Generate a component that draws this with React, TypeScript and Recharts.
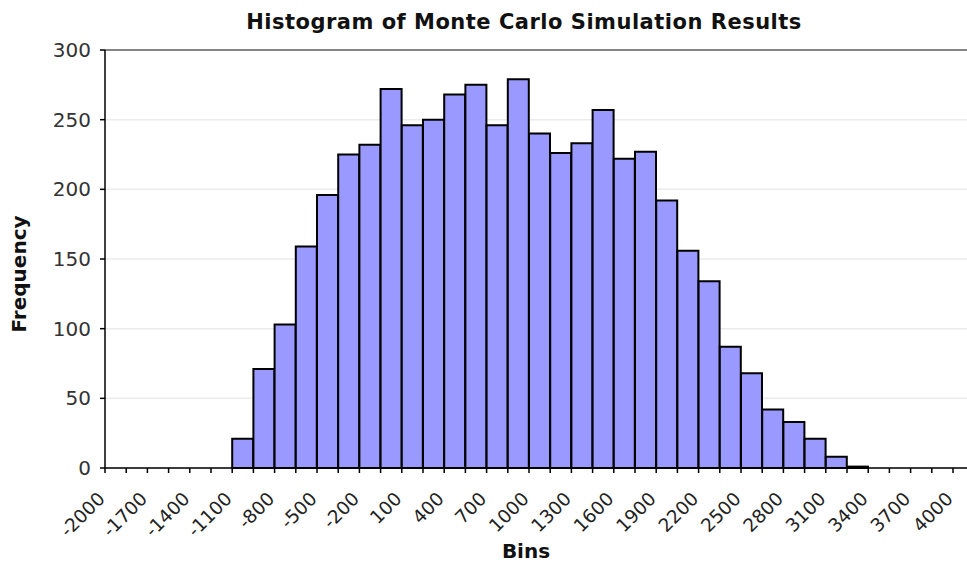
import React from 'react';
import { BarChart, Bar, XAxis, YAxis, CartesianGrid, ReferenceLine } from 'recharts';

// Bin lower edges (width 150)
const binStarts = [
  -2000, -1850, -1700, -1550, -1400, -1250, -1100, -950, -800, -650,
  -500, -350, -200, -50, 100, 250, 400, 550, 700, 850,
  1000, 1150, 1300, 1450, 1600, 1750, 1900, 2050, 2200, 2350,
  2500, 2650, 2800, 2950, 3100, 3250, 3400, 3550, 3700, 3850,
];
const binWidth = 150;

// Frequency per bin
const frequencies = [
  0, 0, 0, 0, 0, 0, 21, 71, 103, 159,
  196, 225, 232, 272, 246, 250, 268, 275, 246, 279,
  240, 226, 233, 257, 222, 227, 192, 156, 134, 87,
  68, 42, 33, 21, 8, 1, 0, 0, 0, 0,
];

// Tick marks at bin edges, labels every 300
const edgeTicks = [
  -2000, -1850, -1700, -1550, -1400, -1250, -1100, -950, -800, -650,
  -500, -350, -200, -50, 100, 250, 400, 550, 700, 850,
  1000, 1150, 1300, 1450, 1600, 1750, 1900, 2050, 2200, 2350,
  2500, 2650, 2800, 2950, 3100, 3250, 3400, 3550, 3700, 3850, 4000,
];
const xLabels = [
  -2000, -1700, -1400, -1100, -800, -500, -200, 100, 400, 700,
  1000, 1300, 1600, 1900, 2200, 2500, 2800, 3100, 3400, 3700, 4000,
];
const yTicks = [0, 50, 100, 150, 200, 250, 300];

const data = binStarts.map((b, i) => ({ mid: b + binWidth / 2, freq: frequencies[i] }));

const FONT = '"DejaVu Sans", Verdana, sans-serif';

const XTick = (props: any) => {
  const { x, y, payload } = props;
  if (!xLabels.includes(payload.value)) return null;
  const ax = x + 1;
  const ay = y + 25;
  return (
    <text
      x={ax}
      y={ay}
      transform={`rotate(-45, ${ax}, ${ay})`}
      textAnchor="end"
      fontFamily={FONT}
      fontSize={18.5}
      fill="#222"
    >
      {payload.value}
    </text>
  );
};

export default function App() {
  return (
    <div style={{ position: 'absolute', left: 0, top: 0, width: 967, height: 568, background: '#fff' }}>
      <BarChart
        width={967}
        height={568}
        data={data}
        margin={{ top: 50, right: 0, bottom: 0, left: 0 }}
        barCategoryGap={0}
        barGap={0}
      >
        <CartesianGrid horizontal vertical={false} stroke="#ebebeb" strokeWidth={1.5} />
        <XAxis
          dataKey="mid"
          type="number"
          domain={[-2000, 4000]}
          ticks={edgeTicks}
          interval={0}
          allowDataOverflow
          padding={{ left: 0, right: 14 }}
          height={100}
          tickSize={5}
          tickMargin={2}
          axisLine={{ stroke: '#000', strokeWidth: 1.5 }}
          tickLine={{ stroke: '#000', strokeWidth: 1.5 }}
          tick={<XTick />}
        />
        <YAxis
          domain={[0, 300]}
          ticks={yTicks}
          interval={0}
          width={105}
          tickSize={5}
          tickMargin={9}
          axisLine={{ stroke: '#000', strokeWidth: 1.5 }}
          tickLine={{ stroke: '#000', strokeWidth: 1.5 }}
          tick={{ fontFamily: FONT, fontSize: 20, fill: '#333' }}
        />
        <ReferenceLine y={300} stroke="#858585" strokeWidth={2} />
        <Bar
          dataKey="freq"
          fill="#9999ff"
          stroke="#000"
          strokeWidth={2}
          isAnimationActive={false}
        />
      </BarChart>
      <svg style={{ position: 'absolute', left: 0, top: 0 }} width={967} height={568} pointerEvents="none">
        <text
          x={524}
          y={28.5}
          textAnchor="middle"
          fontFamily={FONT}
          fontWeight="bold"
          fontSize={21}
          letterSpacing={0.5}
          fill="#111"
        >
          Histogram of Monte Carlo Simulation Results
        </text>
        <text
          x={526}
          y={558}
          textAnchor="middle"
          fontFamily={FONT}
          fontWeight="bold"
          fontSize={20}
          fill="#111"
        >
          Bins
        </text>
        <text
          x={26}
          y={274}
          transform="rotate(-90, 26, 274)"
          textAnchor="middle"
          fontFamily={FONT}
          fontWeight="bold"
          fontSize={20}
          fill="#111"
        >
          Frequency
        </text>
      </svg>
    </div>
  );
}
